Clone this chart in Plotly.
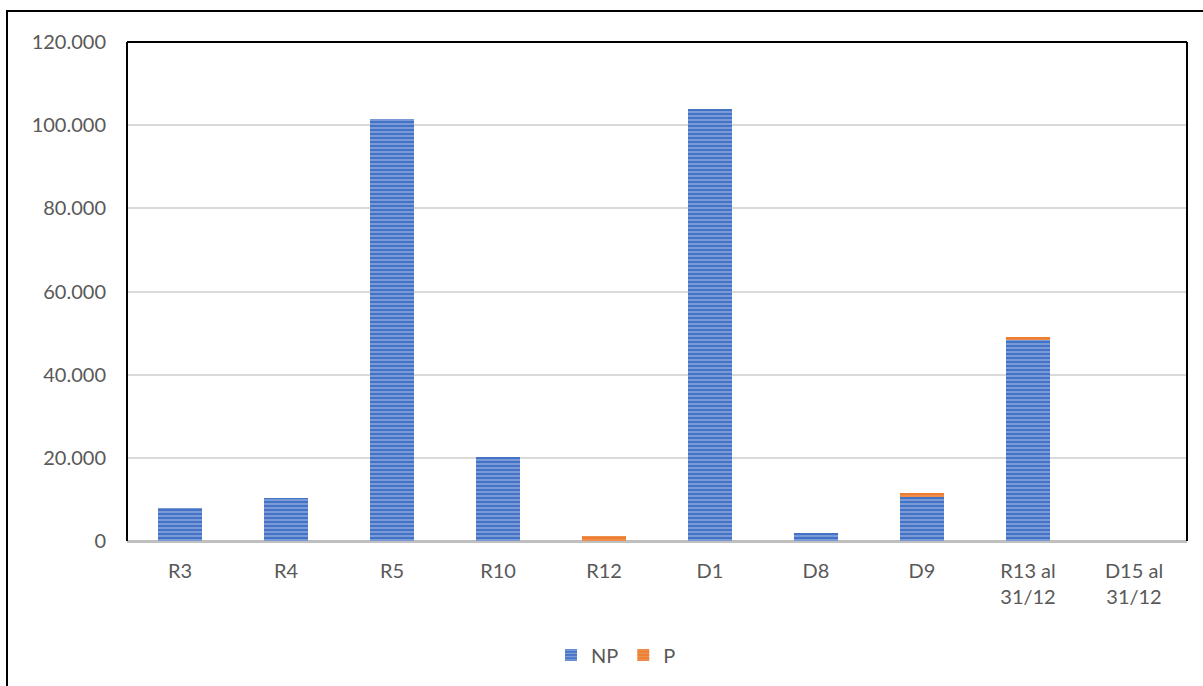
import plotly.graph_objects as go

# Categories and stacked values per series
categories = ["R3", "R4", "R5", "R10", "R12", "D1", "D8", "D9", "R13 al<br>31/12", "D15 al<br>31/12"]
np_values = [7900, 10300, 101400, 20200, 0, 103800, 2000, 10500, 48400, 0]
p_values = [0, 0, 0, 0, 1100, 0, 0, 1100, 600, 0]
y_ticks = [0, 20000, 40000, 60000, 80000, 100000, 120000]

BLUE = "#4472C4"
ORANGE = "#ED7D31"
TEXT = "#595959"
FONT = "Lato, Open Sans, sans-serif"
FS = 20

fig = go.Figure()
fig.add_trace(go.Bar(
    x=categories, y=np_values, name="NP",
    marker=dict(
        color=BLUE,
        line=dict(width=0),
        pattern=dict(shape="-", fgcolor="#C9D7F0", bgcolor=BLUE, size=4, solidity=0.4),
    ),
))
fig.add_trace(go.Bar(
    x=categories, y=p_values, name="P",
    marker=dict(
        color=ORANGE,
        line=dict(width=0),
        pattern=dict(shape="-", fgcolor="#F4B183", bgcolor=ORANGE, size=4, solidity=0.35),
    ),
))

# Plot-area frame (black on top and sides) and outer chart border
L, R, T, B, W, H = 127, 16, 42, 145, 1203, 686
pw, ph = W - L - R, H - T - B


def px(x):
    return (x - L) / pw


def py(y):
    return (H - B - y) / ph


shapes = [
    dict(type="line", xref="paper", yref="paper", x0=0, x1=0, y0=0, y1=1,
         line=dict(color="black", width=2)),
    dict(type="line", xref="paper", yref="paper", x0=1, x1=1, y0=0, y1=1,
         line=dict(color="black", width=2)),
    dict(type="line", xref="paper", yref="paper", x0=0, x1=1, y0=1, y1=1,
         line=dict(color="black", width=2)),
    dict(type="rect", xref="paper", yref="paper", x0=px(7), x1=px(1240), y0=py(11), y1=py(720),
         line=dict(color="black", width=2), fillcolor="rgba(0,0,0,0)"),
]

fig.update_layout(
    barmode="stack",
    bargap=0.585,
    width=W, height=H,
    margin=dict(l=L, r=R, t=T, b=B),
    paper_bgcolor="white",
    plot_bgcolor="white",
    separators=",.",
    font=dict(family=FONT, size=FS, color=TEXT),
    shapes=shapes,
    showlegend=True,
    legend=dict(
        orientation="h", x=px(616), xanchor="center", y=py(655), yanchor="middle",
        font=dict(family=FONT, size=FS, color=TEXT), traceorder="normal",
        itemwidth=30,
    ),
    xaxis=dict(
        showgrid=False, showline=False, ticks="", ticklabelstandoff=16,
        tickfont=dict(family=FONT, size=FS, color=TEXT),
    ),
    yaxis=dict(
        range=[0, 120000], tickvals=y_ticks, tickformat=",d",
        showgrid=True, gridcolor="#D9D9D9", gridwidth=2,
        zeroline=True, zerolinecolor="#BFBFBF", zerolinewidth=3,
        showline=False, ticks="", ticklabelstandoff=20,
        tickfont=dict(family=FONT, size=FS, color=TEXT),
    ),
)

fig.write_html("out.html")
